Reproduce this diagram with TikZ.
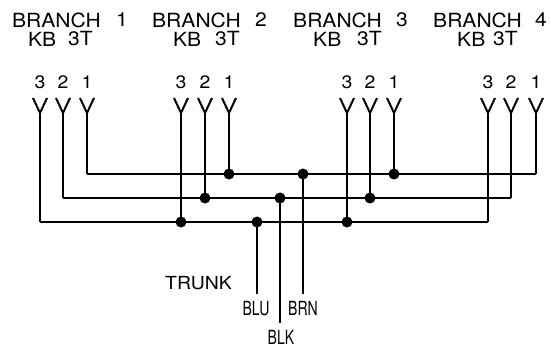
\documentclass[tikz,border=0pt]{standalone}
\usepackage{fontspec}
\setmainfont{TeX Gyre Heros}
\newfontfamily\widefont[FakeStretch=1.08]{TeX Gyre Heros}
\newfontfamily\narrowfont[FakeStretch=0.72]{TeX Gyre Heros}
\begin{document}
\begin{tikzpicture}[x=1pt,y=-1pt,
  wire/.style={line width=2pt},
  jdot/.style={circle,fill,inner sep=0pt,minimum size=11pt},
  hdr/.style={anchor=west,inner sep=0pt,font=\widefont\fontsize{19.5}{19.5}\selectfont},
  hdrr/.style={anchor=east,inner sep=0pt,font=\widefont\fontsize{19.5}{19.5}\selectfont},
  pinlbl/.style={inner sep=0pt,font=\widefont\fontsize{18}{18}\selectfont},
  tlbl/.style={inner sep=0pt,font=\narrowfont\fontsize{19.5}{19.5}\selectfont}]
\useasboundingbox (0,0) rectangle (551,347);
% headers
\foreach \b/\xb/\xn/\xk/\xt in {1/12/128/28/93, 2/152/267/173/240, 3/293/408/313/382, 4/433/547/457/518}{
  \node[hdr] (h-\b) at (\xb,20) {BRANCH};
  \node[hdrr] (hn-\b) at (\xn,20) {\b};
  \node[hdr] (k-\b) at (\xk,39) {KB};
  \node[hdrr] (kt-\b) at (\xt,39) {3T};
}
% pins
\foreach \b/\xa/\xb/\xc in {1/40/63/87, 2/181/205/229, 3/347/370/394, 4/488/511/536}{
  \foreach \p/\x in {3/\xa, 2/\xb, 1/\xc}{
    \node[pinlbl] (n-\b-\p) at (\x,82) {\p};
    \coordinate (yl-\b-\p) at (\x-7,98);
    \coordinate (yr-\b-\p) at (\x+7,98);
    \coordinate (y-\b-\p) at (\x,113);
    \draw[wire] (yl-\b-\p) -- (y-\b-\p) -- (yr-\b-\p);
  }
}
% junctions
\foreach \b/\xa/\xb/\xc in {1/40/63/87, 4/488/511/536}{
  \coordinate (j-\b-3) at (\xa,222);
  \coordinate (j-\b-2) at (\xb,198);
  \coordinate (j-\b-1) at (\xc,174);
}
\foreach \b/\xa/\xb/\xc in {2/181/205/229, 3/347/370/394}{
  \node[jdot] (j-\b-3) at (\xa,222) {};
  \node[jdot] (j-\b-2) at (\xb,198) {};
  \node[jdot] (j-\b-1) at (\xc,174) {};
}
\foreach \b in {1,2,3,4}{
  \foreach \p in {1,2,3}{
    \draw[wire] (y-\b-\p) -- (j-\b-\p.center);
  }
}
% trunk taps
\node[jdot] (tBLU) at (257,222) {};
\node[jdot] (tBLK) at (280,198) {};
\node[jdot] (tBRN) at (303,174) {};
\coordinate (eBLU) at (257,294);
\coordinate (eBLK) at (280,323);
\coordinate (eBRN) at (303,294);
% wires
\draw[wire] (j-1-1) -- (j-2-1.center) -- (tBRN.center) -- (j-3-1.center) -- (j-4-1);
\draw[wire] (j-1-2) -- (j-2-2.center) -- (tBLK.center) -- (j-3-2.center) -- (j-4-2);
\draw[wire] (j-1-3) -- (j-2-3.center) -- (tBLU.center) -- (j-3-3.center) -- (j-4-3);
\draw[wire] (tBLU.center) -- (eBLU);
\draw[wire] (tBLK.center) -- (eBLK);
\draw[wire] (tBRN.center) -- (eBRN);
% labels
\node[hdr,font=\widefont\fontsize{18}{18}\selectfont] (trunk) at (165,283) {TRUNK};
\node[tlbl] (lBLU) at (256,309) {BLU};
\node[tlbl] (lBRN) at (303,308) {BRN};
\node[tlbl] (lBLK) at (281,337) {BLK};
\end{tikzpicture}
\end{document}
